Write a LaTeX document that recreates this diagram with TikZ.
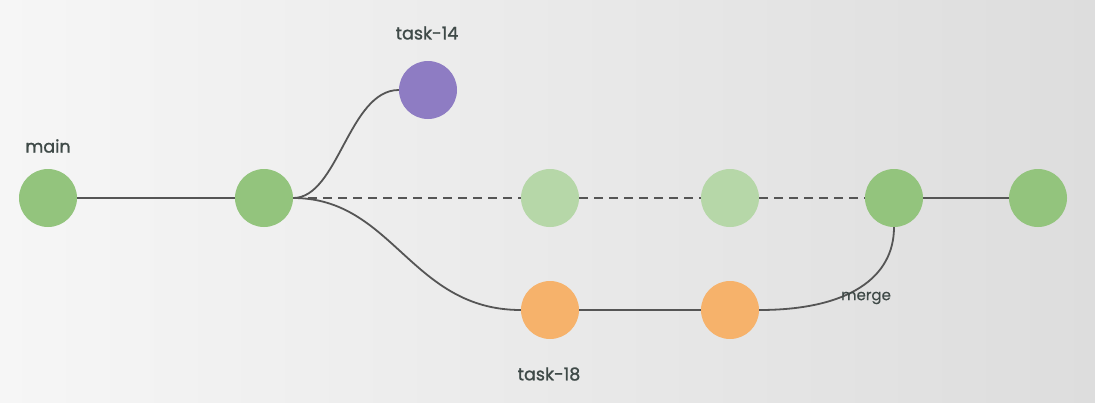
\documentclass[tikz,border=0pt]{standalone}
\usepackage{fontspec}
\setmainfont{Poppins}
\newfontfamily\medfont{Poppins}[FakeBold=1.2]
\newfontfamily\regfont{Poppins}[FakeBold=0.4]
\definecolor{gmain}{HTML}{93C47D}
\definecolor{glight}{HTML}{B6D7A8}
\definecolor{gpurple}{HTML}{8E7CC3}
\definecolor{gorange}{HTML}{F6B26B}
\definecolor{gline}{HTML}{555555}
\definecolor{gtext}{HTML}{3F4A48}
\definecolor{bgleft}{HTML}{F6F6F6}
\definecolor{bgright}{HTML}{DDDDDD}
\tikzset{
  commit/.style={circle, minimum size=58pt, inner sep=0pt, draw=none},
  branch/.style={draw=gline, line width=1.8pt},
  lbl/.style={text=gtext, font=\fontsize{17.5}{20}\medfont},
  mlbl/.style={text=gtext, font=\fontsize{15}{17}\regfont},
}
\begin{document}
\begin{tikzpicture}[x=1pt,y=-1pt]
\shade[left color=bgleft, right color=bgright] (0,0) rectangle (1095,402);
\useasboundingbox (0,0) rectangle (1095,402);
% nodes
\node[commit, fill=gmain] (c1) at (48,198) {};
\node[commit, fill=gmain] (c2) at (264,198) {};
\node[commit, fill=gpurple] (p1) at (428,90) {};
\node[commit, fill=glight] (l1) at (550,198) {};
\node[commit, fill=glight] (l2) at (730,198) {};
\node[commit, fill=gmain] (m1) at (894,198) {};
\node[commit, fill=gmain] (c3) at (1038,198) {};
\node[commit, fill=gorange] (o1) at (550,310) {};
\node[commit, fill=gorange] (o2) at (730,310) {};
% edges
\draw[branch] (c1.east) -- (c2.west);
\draw[branch] (c2.east) .. controls +(45,0) and +(-50,0) .. (p1.west);
\draw[branch] (c2.east) .. controls +(100,0) and +(-110,0) .. (o1.west);
\draw[branch, dash pattern=on 9pt off 6pt] (c2.east) -- (l1.west);
\draw[branch, dash pattern=on 9pt off 6pt] (l1.east) -- (l2.west);
\draw[branch, dash pattern=on 9pt off 6pt] (l2.east) -- (m1.west);
\draw[branch] (o1.east) -- (o2.west);
\draw[branch] (o2.east) .. controls +(90,0) and +(0,50) .. (m1.south);
\draw[branch] (m1.east) -- (c3.west);
% labels
\node[lbl] (tmain) at (48,146) {main};
\node[lbl] (t14) at (427,33) {task-14};
\node[lbl] (t18) at (549,374) {task-18};
\node[mlbl] (tmerge) at (866,298) {merge};
\end{tikzpicture}
\end{document}
